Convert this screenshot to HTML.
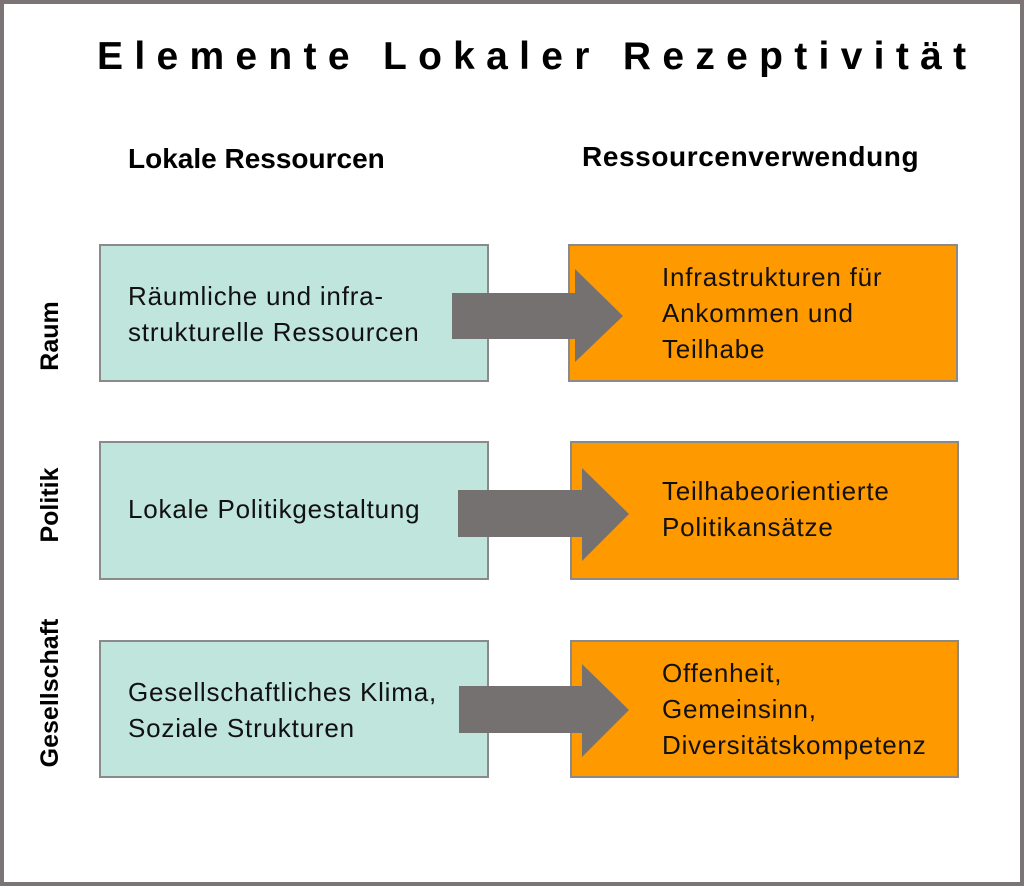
<!DOCTYPE html>
<html><head><meta charset="utf-8"><style>
body{margin:0;width:1024px;height:886px;overflow:hidden;background:#fff;font-family:"Liberation Sans",sans-serif}
.frame{position:absolute;left:0;top:0;width:1016px;height:878px;border:4px solid #7a7574;background:#fff}
.t{position:absolute;white-space:nowrap;color:#000}
.box{position:absolute;box-sizing:border-box;border:2px solid #8a8a8a}
.l{background:#bfe5dd}.r{background:#ff9900}
.bt{position:absolute;font-size:26px;line-height:36px;color:#111;white-space:nowrap;letter-spacing:0.8px}
.v{position:absolute;font-weight:bold;font-size:25px;transform:rotate(-90deg);transform-origin:center;white-space:nowrap;text-align:center;width:200px;line-height:30px}
</style></head><body>
<div class="frame"></div>
<div class="t" style="left:97px;top:35px;font-size:39px;font-weight:bold;letter-spacing:11.3px">Elemente Lokaler Rezeptivität</div>
<div class="t" style="left:128px;top:143px;font-size:28px;font-weight:bold">Lokale Ressourcen</div>
<div class="t" style="left:582px;top:141px;font-size:28px;font-weight:bold;letter-spacing:0.6px">Ressourcenverwendung</div>

<div class="box l" style="left:99px;top:244px;width:390px;height:138px"></div>
<div class="box r" style="left:568px;top:244px;width:390px;height:138px"></div>
<div class="box l" style="left:99px;top:441px;width:390px;height:139px"></div>
<div class="box r" style="left:570px;top:441px;width:389px;height:139px"></div>
<div class="box l" style="left:99px;top:640px;width:390px;height:138px"></div>
<div class="box r" style="left:570px;top:640px;width:389px;height:138px"></div>

<svg style="position:absolute;left:0;top:0" width="1024" height="886">
<polygon fill="#767171" points="452,293 575,293 575,269 623,316 575,362 575,339 452,339"/>
<polygon fill="#767171" points="458,490 582,490 582,468 629,514 582,561 582,537 458,537"/>
<polygon fill="#767171" points="459,686 582,686 582,664 629,710 582,757 582,733 459,733"/>
</svg>

<div class="bt" style="left:128px;top:278px">Räumliche und infra-<br>strukturelle Ressourcen</div>
<div class="bt" style="left:662px;top:259px">Infrastrukturen für<br>Ankommen und<br>Teilhabe</div>
<div class="bt" style="left:128px;top:491px">Lokale Politikgestaltung</div>
<div class="bt" style="left:662px;top:473px">Teilhabeorientierte<br>Politikansätze</div>
<div class="bt" style="left:128px;top:674px">Gesellschaftliches Klima,<br>Soziale Strukturen</div>
<div class="bt" style="left:662px;top:655px">Offenheit,<br>Gemeinsinn,<br>Diversitätskompetenz</div>

<div class="v" style="left:-50px;top:321px">Raum</div>
<div class="v" style="left:-50px;top:490px">Politik</div>
<div class="v" style="left:-50px;top:678px">Gesellschaft</div>
</body></html>
